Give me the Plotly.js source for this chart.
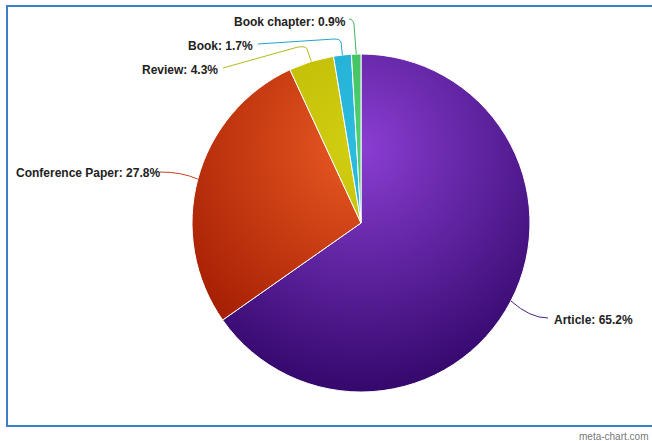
<!DOCTYPE html>
<html>
<head>
<meta charset="utf-8">
<script src="https://cdn.plot.ly/plotly-3.0.1.min.js"></script>
<style>
html,body{margin:0;padding:0;background:#fff;}
#chart{width:652px;height:441px;}
</style>
</head>
<body>
<div id="chart"></div>
<script>
// ---- data ----
const categories = ["Article", "Conference Paper", "Review", "Book", "Book chapter"];
const percents = [65.2, 27.8, 4.3, 1.7, 0.9];

// ---- style ----
const W = 652, H = 441;
const CX = 361, CY = 223, R = 169;
const baseColors = ["#5b1ca6", "#cf3a10", "#c4c000", "#1eaed0", "#3cc05a"];
const lineColors = ["#4a2080", "#c84020", "#b8b820", "#20a8c8", "#40b860"];
const gradStops = [
  ["#8a3ed2", "#34086c"],
  ["#ea5a22", "#9e1800"],
  ["#d2ce10", "#b2ae00"],
  ["#2cbce0", "#1aa4c8"],
  ["#50d070", "#34b050"]
];
// label placement (style): text anchor point and leader waypoints (pixels)
const labelStyle = [
  {tx: 552, ty: 320, anchor: "left", way: (s) => `M${s[0]},${s[1]} Q530,318 548,318`},
  {tx: 162, ty: 173, anchor: "right", way: (s) => `M${s[0]},${s[1]} Q182,172 160,172`},
  {tx: 220, ty: 70, anchor: "right", way: (s) => `M${s[0]},${s[1]} L307,49 Q306,46 298,47 L223,68`},
  {tx: 255, ty: 46, anchor: "right", way: (s) => `M${s[0]},${s[1]} L341,42 Q340,39 334,39 L258,44`},
  {tx: 348, ty: 22, anchor: "right", way: (s) => `M${s[0]},${s[1]} L354,24 Q353,19 349,19`}
];

const px = x => x / W;
const py = y => 1 - y / H;

// compute slice mid-angles from data
const total = percents.reduce((a, b) => a + b, 0);
let cum = 0;
const edgePts = percents.map(v => {
  const mid = (cum + v / 2) / total * 2 * Math.PI;
  cum += v;
  return [CX + R * Math.sin(mid), CY - R * Math.cos(mid)];
});

function pathToPaper(d) {
  return d.replace(/(-?[\d.]+),(-?[\d.]+)/g, (m, a, b) => px(+a).toFixed(5) + "," + py(+b).toFixed(5));
}

const shapes = [];
const annotations = [];
categories.forEach((c, i) => {
  const st = labelStyle[i];
  shapes.push({
    type: "path", xref: "paper", yref: "paper",
    path: pathToPaper(st.way(edgePts[i])),
    line: {color: lineColors[i], width: 1}
  });
  annotations.push({
    xref: "paper", yref: "paper", x: px(st.tx), y: py(st.ty),
    xanchor: st.anchor, yanchor: "middle", showarrow: false,
    text: "<b>" + c + ": " + percents[i].toFixed(1) + "%</b>",
    font: {family: "Liberation Sans, Arial, sans-serif", size: 12, color: "#222222"}
  });
});
// frame
shapes.push({
  type: "rect", xref: "paper", yref: "paper",
  x0: px(7), x1: px(660), y0: py(426), y1: py(6),
  line: {color: "#3a7fc8", width: 2}
});
annotations.push({
  xref: "paper", yref: "paper", x: px(577), y: py(436), xanchor: "left", yanchor: "middle",
  showarrow: false, text: "meta-chart.com",
  font: {family: "Liberation Sans, Arial, sans-serif", size: 10, color: "#777"}
});

const trace = {
  type: "pie",
  labels: categories,
  values: percents,
  sort: false,
  direction: "clockwise",
  rotation: 0,
  textinfo: "none",
  hoverinfo: "label+percent",
  marker: {colors: baseColors, line: {color: "#ffffff", width: 1}},
  domain: {x: [px(CX - R), px(CX + R)], y: [py(CY + R), py(CY - R)]},
  showlegend: false
};

const layout = {
  width: W, height: H,
  margin: {l: 0, r: 0, t: 0, b: 0},
  paper_bgcolor: "#ffffff",
  plot_bgcolor: "#ffffff",
  shapes: shapes,
  annotations: annotations,
  showlegend: false
};

Plotly.newPlot("chart", [trace], layout, {displayModeBar: false, staticPlot: true}).then(() => {
  const svg = document.querySelector("#chart svg.main-svg");
  const NS = "http://www.w3.org/2000/svg";
  let defs = svg.querySelector("defs");
  if (!defs) { defs = document.createElementNS(NS, "defs"); svg.insertBefore(defs, svg.firstChild); }
  gradStops.forEach((g, i) => {
    const rg = document.createElementNS(NS, "radialGradient");
    rg.setAttribute("id", "sliceGrad" + i);
    rg.setAttribute("gradientUnits", "userSpaceOnUse");
    rg.setAttribute("cx", String(CX));
    rg.setAttribute("cy", String(CY - R * 0.45));
    rg.setAttribute("r", String(R * 1.45));
    [[0, g[0]], [1, g[1]]].forEach(([o, col]) => {
      const s = document.createElementNS(NS, "stop");
      s.setAttribute("offset", String(o));
      s.setAttribute("stop-color", col);
      rg.appendChild(s);
    });
    defs.appendChild(rg);
  });
  document.querySelectorAll("#chart .slice path.surface").forEach((p, i) => {
    p.style.fill = "url(#sliceGrad" + i + ")";
  });
});
</script>
</body>
</html>
